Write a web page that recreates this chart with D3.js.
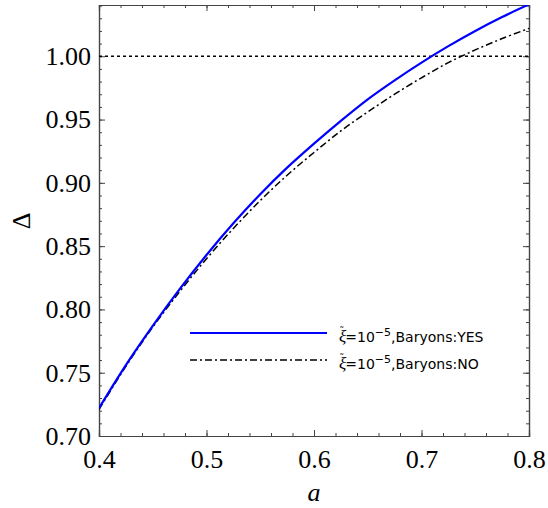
<!DOCTYPE html>
<html>
<head>
<meta charset="utf-8">
<script src="https://cdn.jsdelivr.net/npm/d3@7"></script>
<style>
  body { margin: 0; background: #fff; }
  svg { display: block; }
</style>
</head>
<body>
<svg id="chart" width="548" height="508"></svg>
<script>
// ---- data ----
const aValues = [0.400, 0.425, 0.450, 0.475, 0.500, 0.525, 0.550, 0.575, 0.600, 0.625, 0.650, 0.675, 0.700, 0.725, 0.750, 0.775, 0.800];
const baryonsYes = [0.722, 0.756, 0.787, 0.816, 0.843, 0.868, 0.891, 0.912, 0.931, 0.949, 0.966, 0.981, 0.995, 1.008, 1.020, 1.031, 1.041];
const baryonsNo  = [0.721, 0.755, 0.786, 0.814, 0.840, 0.864, 0.886, 0.906, 0.924, 0.941, 0.956, 0.970, 0.983, 0.995, 1.005, 1.014, 1.022];
const referenceLevel = 1.0;
const xTicks = [0.4, 0.5, 0.6, 0.7, 0.8];
const yTicks = [0.70, 0.75, 0.80, 0.85, 0.90, 0.95, 1.00];
const legendLabels = ["Baryons:YES", "Baryons:NO"];

// ---- layout ----
const svg = d3.select("#chart");
const L = 99, R = 529, T = 5, B = 436;
const x = d3.scaleLinear().domain([0.4, 0.8]).range([L, R]);
const y = d3.scaleLinear().domain([0.70, 1.0405]).range([B, T]);
const SERIF = '"Liberation Serif"';

svg.append("defs").append("clipPath").attr("id", "clip")
  .append("rect").attr("x", L).attr("y", T).attr("width", R - L).attr("height", B - T);

const axisColor = "#444";

const xMinor = d3.range(0.4, 0.8001, 0.02);
const yMinor = d3.range(0.70, 1.0405, 0.01);

const gB = svg.append("g").attr("transform", `translate(0,${B})`)
  .call(d3.axisBottom(x).tickValues(xTicks).tickFormat(d3.format(".1f")).tickSize(-6).tickPadding(14));
svg.append("g").attr("transform", `translate(0,${T})`)
  .call(d3.axisTop(x).tickValues(xTicks).tickFormat("").tickSize(-6));
const gL = svg.append("g").attr("transform", `translate(${L},0)`)
  .call(d3.axisLeft(y).tickValues(yTicks).tickFormat(d3.format(".2f")).tickSize(-6).tickPadding(8));
svg.append("g").attr("transform", `translate(${R},0)`)
  .call(d3.axisRight(y).tickValues(yTicks).tickFormat("").tickSize(-6));

svg.append("g").attr("transform", `translate(0,${B})`)
  .call(d3.axisBottom(x).tickValues(xMinor).tickFormat("").tickSize(-3));
svg.append("g").attr("transform", `translate(0,${T})`)
  .call(d3.axisTop(x).tickValues(xMinor).tickFormat("").tickSize(-3));
svg.append("g").attr("transform", `translate(${L},0)`)
  .call(d3.axisLeft(y).tickValues(yMinor).tickFormat("").tickSize(-3));
svg.append("g").attr("transform", `translate(${R},0)`)
  .call(d3.axisRight(y).tickValues(yMinor).tickFormat("").tickSize(-3));

svg.selectAll(".domain").attr("stroke", axisColor).attr("stroke-width", 1.2);
svg.selectAll(".tick line").attr("stroke", axisColor).attr("stroke-width", 1);
svg.selectAll("g").attr("font-family", null).attr("font-size", null);
svg.selectAll(".tick text")
  .style("font-family", SERIF).style("font-size", "26px").attr("fill", "#000");
gB.selectAll(".tick text").attr("dy", "0.71em");

svg.append("line")
  .attr("x1", x(0.4)).attr("x2", x(0.8))
  .attr("y1", y(referenceLevel)).attr("y2", y(referenceLevel))
  .attr("stroke", "#000").attr("stroke-width", 1.5).attr("stroke-dasharray", "3,3");

const line = d3.line().x((d, i) => x(aValues[i])).y(d => y(d)).curve(d3.curveCatmullRom);

const plot = svg.append("g").attr("clip-path", "url(#clip)");
plot.append("path").datum(baryonsNo).attr("d", line)
  .attr("fill", "none").attr("stroke", "#000").attr("stroke-width", 1.5)
  .attr("stroke-dasharray", "7,3,2,3");
plot.append("path").datum(baryonsYes).attr("d", line)
  .attr("fill", "none").attr("stroke", "#0000ff").attr("stroke-width", 2.2);

// legend
const legend = svg.append("g");
const legendItems = [
  { label: legendLabels[0], color: "#0000ff", dash: null, w: 2.2, y: 333 },
  { label: legendLabels[1], color: "#000", dash: "7,3,2,3", w: 1.5, y: 360 }
];
legendItems.forEach(it => {
  legend.append("line").attr("x1", 190).attr("x2", 327).attr("y1", it.y).attr("y2", it.y)
    .attr("stroke", it.color).attr("stroke-width", it.w).attr("stroke-dasharray", it.dash);
  const t = legend.append("text").attr("x", 339).attr("y", it.y + 9)
    .style("font-family", '"DejaVu Sans"').style("font-size", "14px").attr("fill", "#000");
  t.append("tspan").style("font-family", SERIF).style("font-style", "italic").style("font-size", "17px").text("ξ");
  t.append("tspan").attr("dx", -7).attr("dy", -7).style("font-size", "10px").text("\u02DC");
  t.append("tspan").attr("dx", 1).attr("dy", 7).text("=10");
  t.append("tspan").style("font-size", "11px").attr("dy", -6).text("\u22125");
  t.append("tspan").attr("dy", 6).text("," + it.label);
});

// axis titles
svg.append("text").attr("x", (L + R) / 2).attr("y", 501).attr("text-anchor", "middle")
  .style("font-family", SERIF).style("font-style", "italic").style("font-size", "26px").text("a");
svg.append("text").attr("transform", "translate(30,221) rotate(-90)").attr("text-anchor", "middle")
  .style("font-family", SERIF).style("font-size", "26px").text("Δ");
</script>
</body>
</html>
